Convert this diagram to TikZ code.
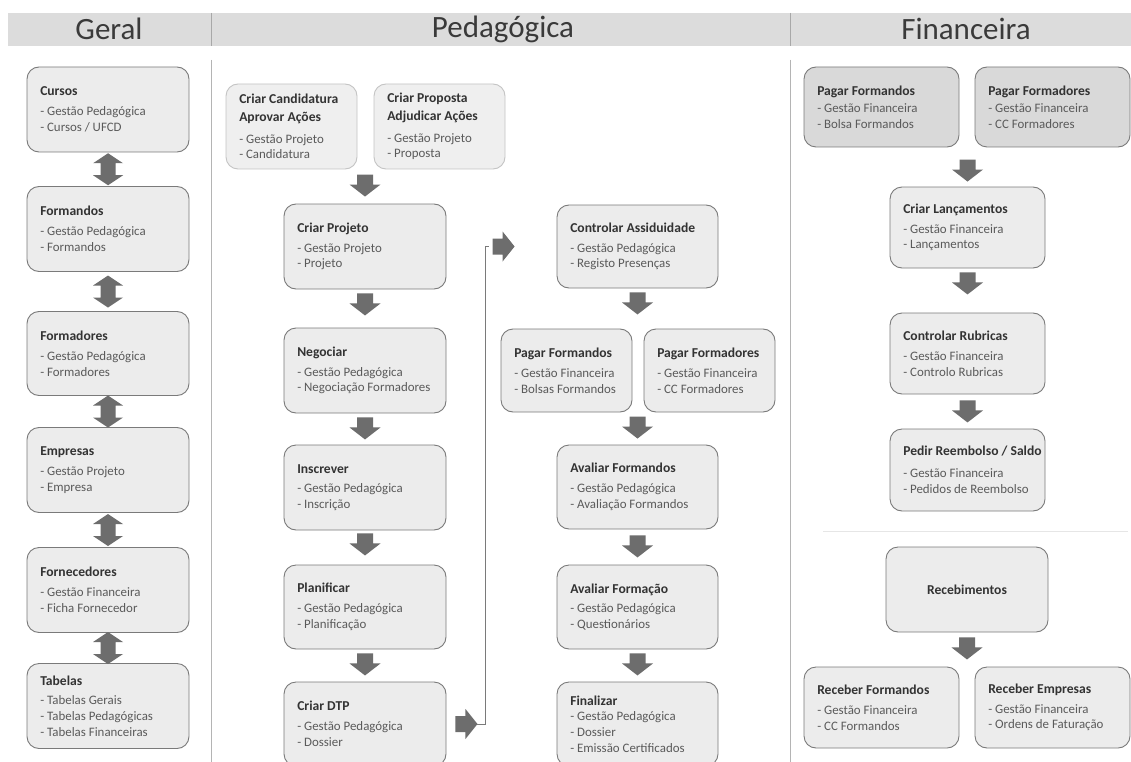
\documentclass[tikz,border=0pt]{standalone}
\usepackage{fontspec}
\setmainfont{Carlito}
\usetikzlibrary{calc}

\definecolor{bandc}{HTML}{DCDCDC}
\definecolor{sepc}{HTML}{A8A8A8}
\definecolor{colc}{HTML}{B4B4B4}
\definecolor{headc}{HTML}{3A3A3A}
\definecolor{cardfill}{HTML}{ECECEC}
\definecolor{carddraw}{HTML}{7A7A7A}
\definecolor{softfill}{HTML}{EFEFEF}
\definecolor{softdraw}{HTML}{C4C4C4}
\definecolor{darkfill}{HTML}{D9D9D9}
\definecolor{arrowc}{HTML}{6D6D6D}
\definecolor{titlec}{HTML}{333333}
\definecolor{bodyc}{HTML}{5A5A5A}
\definecolor{rulec}{HTML}{E6E6E6}

\newcommand\bodyfont{\fontsize{12.9}{15.8}\selectfont}
\newcommand\tit{\fontsize{13.6}{15.8}\selectfont\bfseries\color{titlec}}

% box node plus its left-aligned text block
\newcommand\card[7]{%
  \node[#2, minimum width=#5, minimum height=#6] (#1) at (#3,#4) {};
  \node[cardtxt] at ([xshift=13.5pt]#1.west) {#7};}

% block arrows: start point given as a coordinate
\newcommand\arrdown[1]{\fill[arrowc] #1 ++(-8,0) -- ++(16,0) -- ++(0,10) -- ++(7.5,0) -- ++(-15.5,12) -- ++(-15.5,-12) -- ++(7.5,0) -- cycle;}
\newcommand\arrright[1]{\fill[arrowc] #1 ++(0,-8) -- ++(10,0) -- ++(0,-7) -- ++(12,15) -- ++(-12,15) -- ++(0,-7) -- ++(-10,0) -- cycle;}
\newcommand\arrboth[1]{\fill[arrowc] #1 -- ++(15,10) -- ++(-7.5,0) -- ++(0,12) -- ++(7.5,0) -- ++(-15,10) -- ++(-15,-10) -- ++(7.5,0) -- ++(0,-12) -- ++(-7.5,0) -- cycle;}

\tikzset{
  card/.style={draw=carddraw, fill=cardfill, line width=0.9pt, rounded corners=12pt, inner sep=0pt},
  softcard/.style={draw=softdraw, fill=softfill, line width=0.9pt, rounded corners=12pt, inner sep=0pt},
  darkcard/.style={draw=carddraw, fill=darkfill, line width=0.9pt, rounded corners=12pt, inner sep=0pt},
  cardtxt/.style={anchor=west, align=left, inner sep=0pt, font=\bodyfont, text=bodyc},
  head/.style={font=\fontsize{31}{36}\selectfont, text=headc, inner sep=0pt},
  colline/.style={draw=colc, line width=0.8pt},
  link/.style={draw=carddraw, line width=0.8pt}
}

\begin{document}
\begin{tikzpicture}[x=1pt, y=-1pt]
\useasboundingbox (0,0) rectangle (1131,762);
\clip (0,0) rectangle (1131,762);
\fill[white] (0,0) rectangle (1131,762);

% header band
\fill[bandc] (8,13) rectangle (1131,46);
\draw[sepc, line width=0.8pt] (211,13) -- (211,46);
\draw[sepc, line width=0.8pt] (790,13) -- (790,46);
\node[head] (hGeral) at (109,29) {Geral};
\node[head] (hPed) at (503,29) {Pedagógica};
\node[head] (hFin) at (966,29) {Financeira};

% column separators
\draw[colline] (211,60) -- (211,762);
\draw[colline] (790,60) -- (790,762);
\draw[rulec, line width=0.8pt] (823,531) -- (1128,531);

% ---- Geral
\card{curs}{card}{108}{109.5}{162}{85}{{\tit Cursos}\\[4pt]- Gestão Pedagógica\\- Cursos / UFCD}
\card{fmd}{card}{108}{229}{162}{85}{{\tit Formandos}\\[4pt]- Gestão Pedagógica\\- Formandos}
\card{fmr}{card}{108}{353.5}{162}{84}{{\tit Formadores}\\[4pt]- Gestão Pedagógica\\- Formadores}
\card{emp}{card}{108}{470}{162}{85}{{\tit Empresas}\\[4pt]- Gestão Projeto\\- Empresa}
\card{forn}{card}{108}{590}{162}{85}{{\tit Fornecedores}\\[4pt]- Gestão Financeira\\- Ficha Fornecedor}
\card{tab}{card}{108}{706}{162}{85}{{\tit Tabelas}\\[4pt]- Tabelas Gerais\\- Tabelas Pedagógicas\\- Tabelas Financeiras}

\arrboth{($(curs.south)!.5!(fmd.north)+(0,-16)$)}
\arrboth{($(fmd.south)!.5!(fmr.north)+(0,-16)$)}
\arrboth{($(fmr.south)!.5!(emp.north)+(0,-16)$)}
\arrboth{($(emp.south)!.5!(forn.north)+(0,-16)$)}
\arrboth{($(forn.south)!.5!(tab.north)+(0,-16)$)}

% ---- Pedagógica, left flow
\card{cand}{softcard}{291.5}{126.5}{131}{85}{{\tit Criar Candidatura}\\[2pt]{\tit Aprovar Ações}\\[6pt]- Gestão Projeto\\- Candidatura}
\card{prop}{softcard}{439.5}{126.5}{131}{85}{{\tit Criar Proposta}\\[2pt]{\tit Adjudicar Ações}\\[6pt]- Gestão Projeto\\- Proposta}
\card{proj}{card}{365}{246.5}{162}{85}{{\tit Criar Projeto}\\[4pt]- Gestão Projeto\\- Projeto}
\card{neg}{card}{365}{370.5}{162}{85}{{\tit Negociar}\\[4pt]- Gestão Pedagógica\\- Negociação Formadores}
\card{insc}{card}{365}{487.5}{162}{85}{{\tit Inscrever}\\[4pt]- Gestão Pedagógica\\- Inscrição}
\card{plan}{card}{365}{607}{162}{84}{{\tit Planificar}\\[4pt]- Gestão Pedagógica\\- Planificação}
\card{dtp}{card}{365}{724}{162}{84}{{\tit Criar DTP}\\[4pt]- Gestão Pedagógica\\- Dossier}

\arrdown{($(proj.north)+(0,-29)$)}
\arrdown{($(proj.south)+(0,4)$)}
\arrdown{($(neg.south)+(0,4)$)}
\arrdown{($(insc.south)+(0,3)$)}
\arrdown{($(plan.south)+(0,4)$)}

% ---- Pedagógica, right flow
\card{ctrl}{card}{637.5}{246.5}{161}{83}{{\tit Controlar Assiduidade}\\[4pt]- Gestão Pedagógica\\- Registo Presenças}
\card{pagfm}{card}{566.5}{370.5}{131}{83}{{\tit Pagar Formandos}\\[4pt]- Gestão Financeira\\- Bolsas Formandos}
\card{pagfr}{card}{709.5}{370.5}{131}{83}{{\tit Pagar Formadores}\\[4pt]- Gestão Financeira\\- CC Formadores}
\card{avf}{card}{637.5}{487}{161}{84}{{\tit Avaliar Formandos}\\[4pt]- Gestão Pedagógica\\- Avaliação Formandos}
\card{avform}{card}{637.5}{607}{161}{84}{{\tit Avaliar Formação}\\[4pt]- Gestão Pedagógica\\- Questionários}
\card{fin}{card}{637.5}{724}{161}{84}{{\tit Finalizar}\\- Gestão Pedagógica\\- Dossier\\- Emissão Certificados}

\arrdown{($(ctrl.south)+(0,4)$)}
\arrdown{($(avf.north)+(0,-28)$)}
\arrdown{($(avf.south)+(0,6)$)}
\arrdown{($(avform.south)+(0,4)$)}

% link from Criar DTP up to Controlar Assiduidade
\arrright{($(dtp.east)+(9,0)$)}
\draw[link] ($(dtp.east)+(31,0)$) -| ($(ctrl.west)+(-71,0)$) -- ++(3,0);
\arrright{($(ctrl.west)+(-64,0)$)}

% ---- Financeira
\card{fpf}{darkcard}{881.5}{107}{155}{80}{{\tit Pagar Formandos}\\[1pt]- Gestão Financeira\\- Bolsa Formandos}
\card{fpr}{darkcard}{1052.5}{107}{155}{80}{{\tit Pagar Formadores}\\[1pt]- Gestão Financeira\\- CC Formadores}
\card{lanc}{card}{967.5}{227.5}{155}{81}{{\tit Criar Lançamentos}\\[4pt]- Gestão Financeira\\- Lançamentos}
\card{rub}{card}{967.5}{353.5}{155}{81}{{\tit Controlar Rubricas}\\[4pt]- Gestão Financeira\\- Controlo Rubricas}
\card{reem}{card}{967.5}{470}{155}{82}{{\tit Pedir Reembolso / Saldo}\\[6pt]- Gestão Financeira\\- Pedidos de Reembolso}
\node[card, minimum width=162, minimum height=85] (receb) at (967,589.5) {\tit Recebimentos};
\card{recf}{card}{881.5}{707.5}{155}{81}{{\tit Receber Formandos}\\[4pt]- Gestão Financeira\\- CC Formandos}
\card{rece}{card}{1052.5}{707.5}{155}{81}{{\tit Receber Empresas}\\[4pt]- Gestão Financeira\\- Ordens de Faturação}

\arrdown{($(lanc.north)+(0,-27)$)}
\arrdown{($(lanc.south)+(0,4)$)}
\arrdown{($(rub.south)+(0,6)$)}
\arrdown{($(receb.south)+(0,5)$)}
\end{tikzpicture}
\end{document}
